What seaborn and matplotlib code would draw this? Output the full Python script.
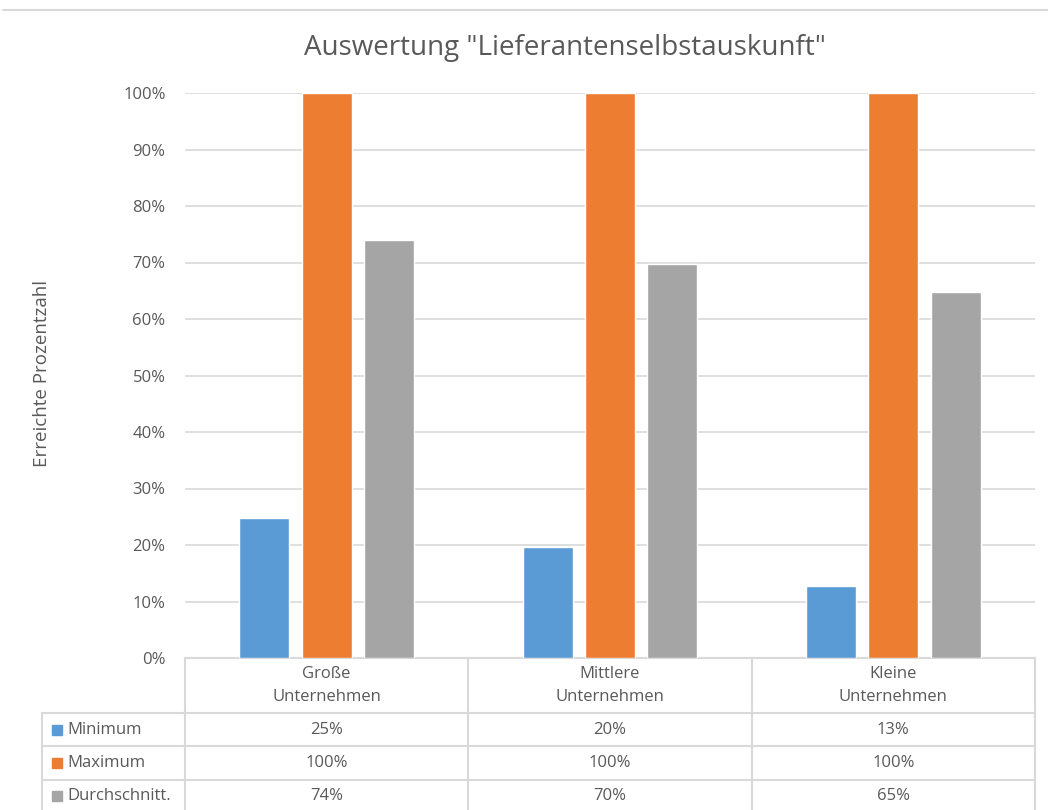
import matplotlib
matplotlib.use("Agg")
import matplotlib.pyplot as plt
from matplotlib.lines import Line2D
from matplotlib.ticker import PercentFormatter
import seaborn as sns
import pandas as pd

# ---- data ----
categories = ["Große\nUnternehmen", "Mittlere\nUnternehmen", "Kleine\nUnternehmen"]
series = ["Minimum", "Maximum", "Durchschnitt."]
minimum = [0.247, 0.197, 0.127]
maximum = [1.0, 1.0, 1.0]
durchschnitt = [0.74, 0.697, 0.648]
colors = ["#5B9BD5", "#ED7D31", "#A5A5A5"]
title = 'Auswertung "Lieferantenselbstauskunft"'
ylabel = "Erreichte Prozentzahl"

values = [minimum, maximum, durchschnitt]
rows = []
for s, vals in zip(series, values):
    for c, v in zip(categories, vals):
        rows.append({"Kategorie": c, "Serie": s, "Wert": v})
df = pd.DataFrame(rows)

sns.set_theme(style="white")
plt.rcParams["font.family"] = ["Open Sans", "DejaVu Sans"]
txt = "#595959"
grid = "#D9D9D9"
fs = 12

W, H = 1048, 810
fig = plt.figure(figsize=(W / 100, H / 100), dpi=100)
ax = fig.add_axes([185 / W, 1 - 658 / H, 850 / W, 565 / H])

sns.barplot(data=df, x="Kategorie", y="Wert", hue="Serie", order=categories,
            hue_order=series, palette=colors, saturation=1, width=0.66, gap=0.2,
            legend=False, ax=ax, zorder=3)

ax.set_ylim(0, 1)
ax.set_xlim(-0.5, len(categories) - 0.5)
ax.set_yticks([i / 10 for i in range(11)])
ax.yaxis.set_major_formatter(PercentFormatter(1.0, decimals=0))
ax.tick_params(axis="y", length=0, pad=14, labelsize=fs, labelcolor=txt)
ax.set_xticks([])
ax.set_xlabel("")
ax.grid(axis="y", color=grid, lw=1.2, zorder=0)
ax.set_axisbelow(True)
for side in ["top", "left", "right"]:
    ax.spines[side].set_visible(False)
ax.spines["bottom"].set_color(grid)
ax.spines["bottom"].set_linewidth(1.5)
ax.set_ylabel(ylabel, fontsize=13.5, color=txt)
ax.yaxis.set_label_coords(-0.158, 0.503)

# ---- data table below the axes ----
h_px = 565.0
def fy(px_below):
    return -px_below / h_px

left = (42 - 185) / 850
xt = ax.get_xaxis_transform()
lkw = dict(color=grid, lw=1.5, clip_on=False)
# horizontal lines
for yb in [55, 88, 122]:
    ax.plot([left, 1], [fy(yb), fy(yb)], transform=ax.transAxes, **lkw)
# vertical lines
for xb in [-0.5 + i for i in range(len(categories) + 1)]:
    ax.plot([xb, xb], [0, fy(160)], transform=xt, **lkw)
ax.plot([left, left], [fy(55), fy(160)], transform=ax.transAxes, **lkw)

# header
for i, c in enumerate(categories):
    ax.text(i, fy(27.5), c, transform=xt, ha="center", va="center",
            fontsize=fs, color=txt, linespacing=1.65)

row_y = [72, 105, 138]
for s, vals, col, ry in zip(series, values, colors, row_y):
    ax.plot([-0.1506], [fy(ry)], marker="s", ms=7, color=col,
            transform=ax.transAxes, clip_on=False, ls="none")
    ax.text(-0.1388, fy(ry), s, transform=ax.transAxes, ha="left",
            va="center", fontsize=fs, color=txt)
    for i, v in enumerate(vals):
        ax.text(i, fy(ry), f"{v:.0%}", transform=xt, ha="center",
                va="center", fontsize=fs, color=txt)

# title and top rule
fig.text(565 / W, 1 - 48 / H, title, ha="center", va="center",
         fontsize=20, color=txt)
fig.add_artist(Line2D([3 / W, 1], [1 - 10 / H, 1 - 10 / H], color=grid, lw=1.5))

fig.savefig("out.png", dpi=100)
